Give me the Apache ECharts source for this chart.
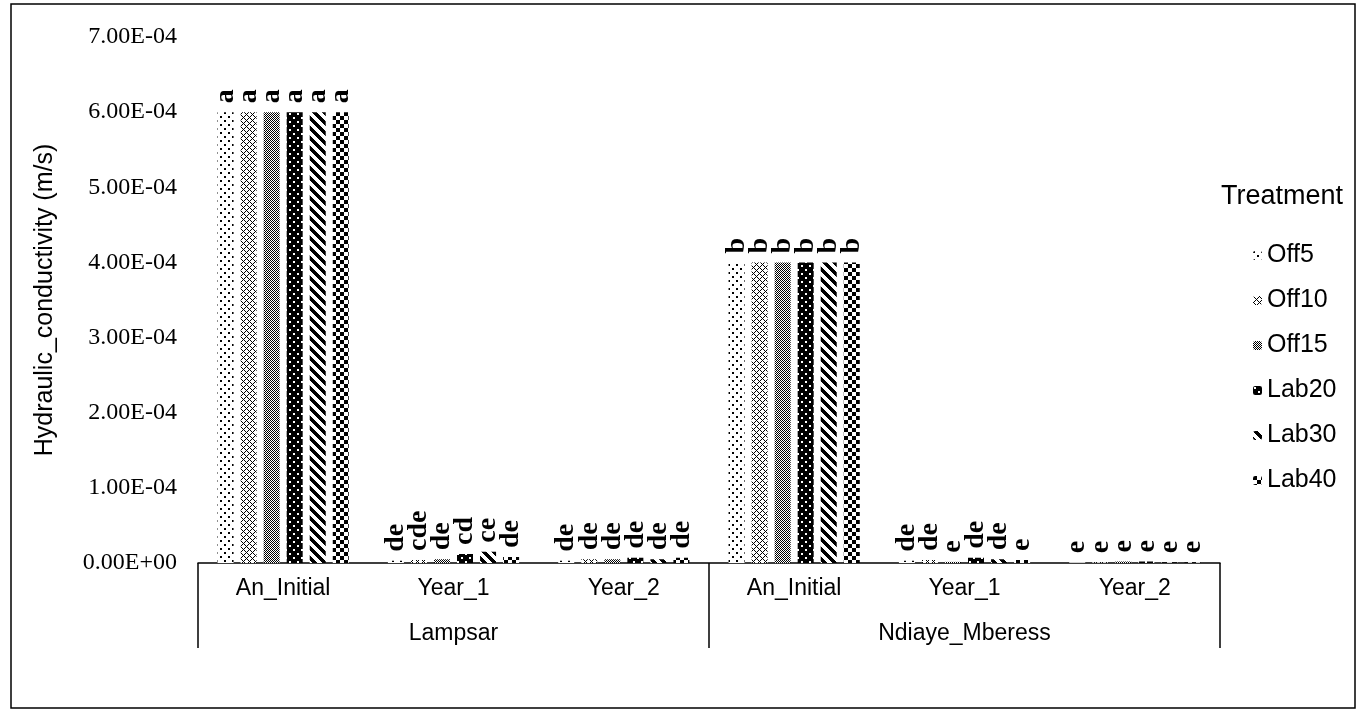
<!DOCTYPE html>
<html>
<head>
<meta charset="utf-8">
<script src="https://cdn.jsdelivr.net/npm/echarts@6/dist/echarts.min.js"></script>
<style>html,body{margin:0;padding:0;background:#fff;}#chart{width:1357px;height:712px;}</style>
</head>
<body>
<div id="chart"></div>
<script>
// ---- data ----
const subCategories = ['An_Initial', 'Year_1', 'Year_2', 'An_Initial', 'Year_1', 'Year_2'];
const groups = ['Lampsar', 'Ndiaye_Mberess'];
const seriesNames = ['Off5', 'Off10', 'Off15', 'Lab20', 'Lab30', 'Lab40'];

const off5  = [6.0e-4, 3.0e-6, 3.0e-6, 4.0e-4, 3.0e-6, 1.0e-6];
const off10 = [6.0e-4, 4.0e-6, 5.0e-6, 4.0e-4, 4.0e-6, 1.0e-6];
const off15 = [6.0e-4, 5.0e-6, 5.0e-6, 4.0e-4, 1.5e-6, 2.0e-6];
const lab20 = [6.0e-4, 1.2e-5, 7.0e-6, 4.0e-4, 7.0e-6, 2.0e-6];
const lab30 = [6.0e-4, 1.5e-5, 5.0e-6, 4.0e-4, 5.0e-6, 1.0e-6];
const lab40 = [6.0e-4, 8.0e-6, 7.0e-6, 4.0e-4, 4.0e-6, 1.0e-6];

const off5Letters  = ['a', 'de',  'de', 'b', 'de', 'e'];
const off10Letters = ['a', 'cde', 'de', 'b', 'de', 'e'];
const off15Letters = ['a', 'de',  'de', 'b', 'e',  'e'];
const lab20Letters = ['a', 'cd',  'de', 'b', 'de', 'e'];
const lab30Letters = ['a', 'ce',  'de', 'b', 'de', 'e'];
const lab40Letters = ['a', 'de',  'de', 'b', 'e',  'e'];

const yMin = 0, yMax = 7e-4, yInterval = 1e-4;

// ---- patterns ----
function makePattern(w, h, fn) {
  const c = document.createElement('canvas');
  c.width = w; c.height = h;
  const ctx = c.getContext('2d');
  ctx.fillStyle = '#fff'; ctx.fillRect(0, 0, w, h);
  ctx.fillStyle = '#000';
  for (let y = 0; y < h; y++) for (let x = 0; x < w; x++) if (fn(x, y)) ctx.fillRect(x, y, 1, 1);
  return { image: c, repeat: 'repeat' };
}
const mod = (a, n) => ((a % n) + n) % n;
const patterns = [
  makePattern(8, 8, (x, y) => (x < 2 && y < 2) || (x >= 4 && x < 6 && y >= 4 && y < 6)),
  makePattern(6, 6, (x, y) => mod(x - y, 6) === 0 || mod(x + y, 6) === 0),
  makePattern(4, 4, (x, y) => mod(x + y, 2) === 0 || (x === 1 && y === 1) || (x === 3 && y === 3)),
  makePattern(8, 8, (x, y) => !((x >= 1 && x < 3 && y >= 1 && y < 3) || (x >= 5 && x < 7 && y >= 5 && y < 7))),
  makePattern(10, 10, (x, y) => mod(x - y, 10) < 5),
  makePattern(8, 8, (x, y) => (Math.floor(x / 4) + Math.floor(y / 4)) % 2 === 0)
];

const allValues = [off5, off10, off15, lab20, lab30, lab40];
const allLetters = [off5Letters, off10Letters, off15Letters, lab20Letters, lab30Letters, lab40Letters];

function fmtSci(v) {
  if (Math.abs(v) < 1e-12) return '0.00E+00';
  let e = Math.floor(Math.log10(Math.abs(v)));
  let m = v / Math.pow(10, e);
  if (Math.abs(m) >= 9.995) { m /= 10; e += 1; }
  const sign = e < 0 ? '-' : '+';
  const ae = Math.abs(e);
  return m.toFixed(2) + 'E' + sign + (ae < 10 ? '0' + ae : ae);
}

const chart = echarts.init(document.getElementById('chart'), null, { renderer: 'canvas' });

const series = seriesNames.map((name, i) => ({
  name: name,
  type: 'bar',
  xAxisIndex: 0,
  barWidth: 16,
  barGap: '44%',
  data: allValues[i],
  itemStyle: { color: patterns[i] },
  emphasis: { disabled: true },
  label: {
    show: true,
    position: 'top',
    rotate: 90,
    align: 'left',
    verticalAlign: 'middle',
    distance: 9,
    fontFamily: 'Liberation Serif',
    fontWeight: 'bold',
    fontSize: 28,
    color: '#000',
    formatter: p => allLetters[i][p.dataIndex]
  }
}));

chart.setOption({
  animation: false,
  backgroundColor: '#fff',
  grid: { left: 198, right: 137, top: 37, bottom: 149, containLabel: false },
  legend: {
    data: seriesNames,
    orient: 'vertical',
    left: 1253,
    top: 243,
    itemWidth: 9,
    itemHeight: 9,
    itemGap: 20,
    padding: 0,
    selectedMode: false,
    textStyle: { fontFamily: 'Liberation Sans', fontSize: 25, color: '#000' }
  },
  xAxis: [
    {
      type: 'category',
      data: subCategories,
      position: 'bottom',
      axisLine: { show: true, lineStyle: { color: '#000', width: 1.5 } },
      axisTick: { show: false },
      axisLabel: { margin: 14, fontFamily: 'Liberation Sans', fontSize: 23, color: '#000', interval: 0 },
      splitLine: { show: false }
    },
    {
      type: 'category',
      data: groups,
      position: 'bottom',
      axisLine: { show: false },
      axisTick: { show: true, length: 85, lineStyle: { color: '#000', width: 1.5 } },
      axisLabel: { margin: 59, fontFamily: 'Liberation Sans', fontSize: 23, color: '#000', interval: 0 },
      splitLine: { show: false }
    }
  ],
  yAxis: {
    type: 'value',
    min: yMin, max: yMax, interval: yInterval,
    name: 'Hydraulic_conductivity (m/s)',
    nameLocation: 'middle',
    nameGap: 140,
    nameTextStyle: { fontFamily: 'Liberation Sans', fontSize: 25, color: '#000' },
    axisLine: { show: false },
    axisTick: { show: false },
    splitLine: { show: false },
    axisLabel: { margin: 21, fontFamily: 'Liberation Serif', fontSize: 24, color: '#000', formatter: fmtSci }
  },
  graphic: [
    { type: 'rect', shape: { x: 11, y: 4, width: 1344, height: 704 }, style: { fill: 'none', stroke: '#000', lineWidth: 1.5 }, silent: true, z: -1 },
    { type: 'text', left: 1221, top: 183, style: { text: 'Treatment', fontFamily: 'Liberation Sans', fontSize: 27, fill: '#000' } }
  ],
  series: series
});
</script>
</body>
</html>
